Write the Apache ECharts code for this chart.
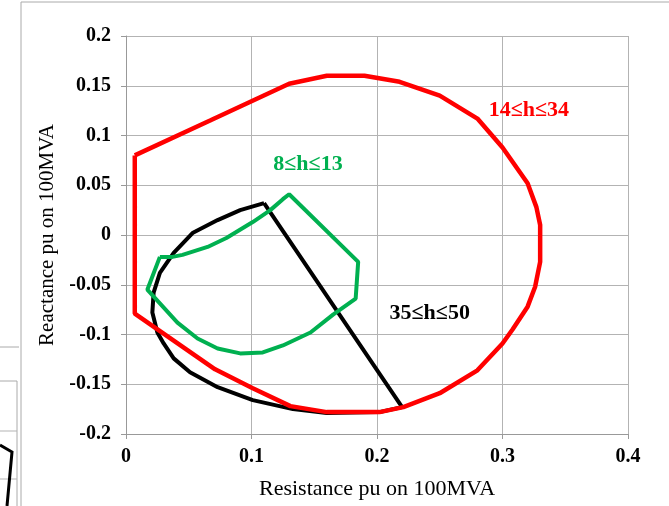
<!DOCTYPE html>
<html>
<head>
<meta charset="utf-8">
<script src="https://cdn.jsdelivr.net/npm/echarts@6/dist/echarts.min.js"></script>
<style>
html,body{margin:0;padding:0;background:#fff;}
#chart{width:669px;height:506px;}
</style>
</head>
<body>
<div id="chart"></div>
<script>
// Harmonic impedance loci: [Resistance pu, Reactance pu]
const seriesNames = ['14≤h≤34', '8≤h≤13', '35≤h≤50'];
const red14to34 = [
  [0.007, 0.080], [0.067, 0.115], [0.130, 0.152], [0.160, 0.160], [0.190, 0.160],
  [0.218, 0.154], [0.250, 0.140], [0.280, 0.117], [0.300, 0.088], [0.320, 0.052],
  [0.327, 0.028], [0.330, 0.010], [0.330, -0.027], [0.326, -0.052], [0.320, -0.072],
  [0.308, -0.095], [0.300, -0.109], [0.280, -0.136], [0.250, -0.159], [0.221, -0.173],
  [0.202, -0.178], [0.160, -0.178], [0.131, -0.172], [0.101, -0.154], [0.071, -0.135],
  [0.007, -0.079], [0.007, 0.080]
];
const green8to13 = [
  [0.027, -0.022], [0.017, -0.055], [0.041, -0.088], [0.057, -0.104], [0.073, -0.114],
  [0.091, -0.119], [0.109, -0.118], [0.125, -0.111], [0.147, -0.098], [0.165, -0.080],
  [0.183, -0.064], [0.185, -0.027], [0.130, 0.041], [0.125, 0.036], [0.115, 0.025],
  [0.101, 0.013], [0.080, -0.003], [0.065, -0.012], [0.045, -0.020], [0.037, -0.022],
  [0.027, -0.022]
];
const black35to50 = [
  [0.110, 0.032], [0.091, 0.025], [0.073, 0.015], [0.053, 0.002], [0.038, -0.018],
  [0.027, -0.038], [0.022, -0.058], [0.021, -0.078], [0.025, -0.098], [0.030, -0.109],
  [0.038, -0.124], [0.051, -0.138], [0.073, -0.153], [0.101, -0.166], [0.133, -0.175],
  [0.160, -0.179], [0.202, -0.178], [0.220, -0.173], [0.110, 0.032]
];
const labelPoints = [[0.321, 0.125], [0.145, 0.071], [0.242, -0.079]];
const xTicks = { min: 0, max: 0.4, interval: 0.1 };
const yTicks = { min: -0.2, max: 0.2, interval: 0.05 };

const colors = ['#FF0000', '#00B050', '#000000'];
const serif = '"Liberation Serif", "Times New Roman", serif';
const chart = echarts.init(document.getElementById('chart'));
const dataSets = [red14to34, green8to13, black35to50];

const lineSeries = dataSets.map((d, i) => ({
  name: seriesNames[i],
  type: 'line',
  data: d,
  showSymbol: false,
  smooth: false,
  animation: false,
  lineStyle: { color: colors[i], width: i === 0 ? 4.5 : 4 },
  z: 3 + (2 - i)
}));

const labelSeries = {
  type: 'scatter',
  symbolSize: 0,
  animation: false,
  silent: true,
  itemStyle: { opacity: 1 },
  data: labelPoints.map((p, i) => ({
    value: p,
    itemStyle: { color: colors[i], opacity: 1 },
    label: {
      show: true, position: 'inside', formatter: seriesNames[i], opacity: 1,
      color: colors[i], fontFamily: serif, fontWeight: 'bold', fontSize: 22,
      textBorderWidth: 0
    }
  })),
  z: 10
};

chart.setOption({
  backgroundColor: '#fff',
  animation: false,
  grid: { left: 126, right: 41, top: 36, bottom: 72, containLabel: false },
  xAxis: {
    type: 'value', min: xTicks.min, max: xTicks.max, interval: xTicks.interval,
    name: 'Resistance pu on 100MVA', nameLocation: 'middle', nameGap: 44,
    nameTextStyle: { fontFamily: serif, fontSize: 22, color: '#000' },
    axisLine: { show: true, onZero: false, lineStyle: { color: '#999', width: 1 } },
    axisTick: { show: true, length: 5, lineStyle: { color: '#999' } },
    axisLabel: { fontFamily: serif, fontWeight: 'bold', fontSize: 20, color: '#000', margin: 13 },
    splitLine: { show: true, lineStyle: { color: '#b3b3b3', width: 1 } }
  },
  yAxis: {
    type: 'value', min: yTicks.min, max: yTicks.max, interval: yTicks.interval,
    name: 'Reactance pu on 100MVA', nameLocation: 'middle', nameGap: 56, nameRotate: 90,
    nameTextStyle: { fontFamily: serif, fontSize: 21, color: '#000' },
    axisLine: { show: true, onZero: false, lineStyle: { color: '#999', width: 1 } },
    axisTick: { show: true, length: 5, lineStyle: { color: '#999' } },
    axisLabel: { fontFamily: serif, fontWeight: 'bold', fontSize: 20, color: '#000', margin: 15 },
    splitLine: { show: true, lineStyle: { color: '#b3b3b3', width: 1 } }
  },
  graphic: [
    { type: 'polyline', shape: { points: [[21, 506], [21, 2], [669, 2]] }, style: { stroke: '#aaaaaa', lineWidth: 1, fill: null }, silent: true },
    { type: 'line', shape: { x1: 0, y1: 347, x2: 19, y2: 347 }, style: { stroke: '#aaaaaa', lineWidth: 1 }, silent: true },
    { type: 'polyline', shape: { points: [[0, 381], [17, 381], [17, 506]] }, style: { stroke: '#aaaaaa', lineWidth: 1, fill: null }, silent: true },
    { type: 'line', shape: { x1: 0, y1: 431, x2: 17, y2: 431 }, style: { stroke: '#b3b3b3', lineWidth: 1 }, silent: true },
    { type: 'line', shape: { x1: 0, y1: 479, x2: 17, y2: 479 }, style: { stroke: '#b3b3b3', lineWidth: 1 }, silent: true },
    { type: 'polyline', shape: { points: [[0, 445], [12, 452], [7, 506]] }, style: { stroke: '#000', lineWidth: 3, fill: null }, silent: true }
  ],
  series: [...lineSeries, labelSeries]
});
</script>
</body>
</html>
